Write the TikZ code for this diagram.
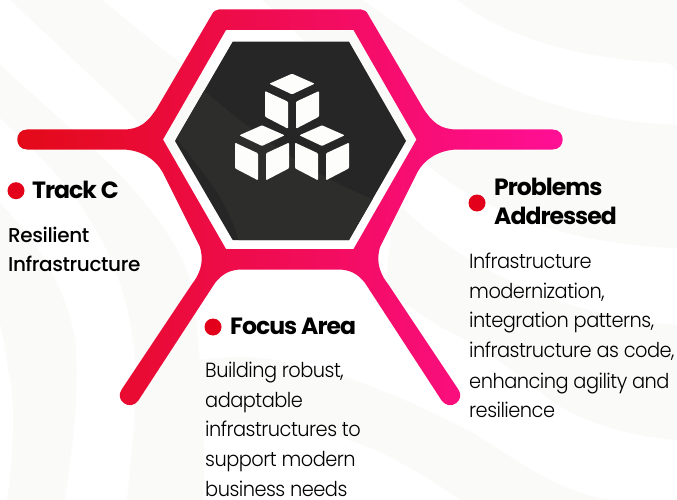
\documentclass[tikz,border=0pt]{standalone}
\usepackage{fontspec}
\setmainfont{Lato}
\newfontfamily\headf[LetterSpace=-4.2]{Poppins Bold}
\newfontfamily\medf[LetterSpace=-2.0]{Poppins Medium}
\newfontfamily\bodyf[LetterSpace=-2.5,FakeStretch=0.945]{Poppins Light}
\definecolor{ringL}{HTML}{E30A17}
\definecolor{ringM}{HTML}{EC0048}
\definecolor{ringR}{HTML}{FF0F96}
\definecolor{hexdark}{HTML}{262626}
\definecolor{hexlight}{HTML}{2D2D2B}
\definecolor{dotred}{HTML}{E2001A}
\definecolor{paleband}{HTML}{FAFAF8}
\definecolor{cubewhite}{HTML}{FDFDFB}
\tikzset{
  headtext/.style={inner sep=0,anchor=base west,text=black,font=\headf\fontsize{23.5}{29}\selectfont,align=left},
  subtext/.style={inner sep=0,anchor=north west,text=black,align=left,font=\medf\fontsize{20}{29}\selectfont},
  bodytext/.style={inner sep=0,anchor=north west,text=black,font=\bodyf\fontsize{20.5}{29.6}\selectfont,align=left},
  dotmark/.style={circle,fill=dotred,minimum size=17pt,inner sep=0},
  cubeface/.style={fill=cubewhite,rounded corners=1pt},
}
\newcommand{\onecube}[2]{%
  \begin{scope}[shift={(#1,#2)},x=1pt/3,y=-1pt/3]
    \fill[cubeface] (0,0)--(68,30)--(0,62)--(-68,30)--cycle;
    \fill[cubeface] (-81,52)--(-12,84)--(-12,165)--(-81,129)--cycle;
    \fill[cubeface] (12,84)--(81,52)--(81,129)--(12,165)--cycle;
  \end{scope}}
\begin{document}
\begin{tikzpicture}[x=1pt,y=-1pt]
\useasboundingbox (0,0) rectangle (677,500);
\fill[white] (0,0) rectangle (677,500);
% pale swooshes of the background
\fill[paleband]
  (457,0) .. controls (510,40) and (580,58) .. (666,63) .. controls (673,64) and (676,68) .. (677,72) -- (677,0) -- cycle
  (363,0) .. controls (430,50) and (530,120) .. (677,125) -- (677,248)
  .. controls (590,245) and (530,225) .. (480,200) .. controls (400,160) and (330,60) .. (262,0) -- cycle
  (395,200) .. controls (470,280) and (590,320) .. (677,325) -- (677,440)
  .. controls (620,435) and (580,420) .. (550,400) .. controls (520,375) and (480,345) .. (440,327) -- (385,290) -- cycle
  (198,360) .. controls (215,358) and (240,356) .. (257,358) .. controls (320,362) and (400,395) .. (473,433)
  .. controls (510,455) and (560,495) .. (613,500) -- (460,500)
  .. controls (430,478) and (400,462) .. (380,452) .. controls (320,425) and (260,420) .. (204,425) -- cycle
  (10,0) -- (77,63) -- (127,110) -- (175,160) -- (232,100) -- (163,50) -- (102,0) -- cycle
  (0,65) -- (70,128) .. controls (120,170) and (175,230) .. (190,280)
  .. controls (198,310) and (206,420) .. (203,500) -- (127,500)
  .. controls (133,440) and (140,380) .. (133,340) .. controls (125,280) and (100,215) .. (33,150) -- (0,118) -- cycle
  (0,203) .. controls (30,235) and (65,280) .. (75,340) .. controls (80,390) and (72,450) .. (65,500) -- (7,500)
  .. controls (15,450) and (15,390) .. (8,370) .. controls (6,350) and (3,335) .. (0,323) -- cycle;
% ring with arms
\shade[even odd rule,left color=ringL,middle color=ringM,right color=ringR]
  (219,9.5) -- (361,9.5)
  .. controls (364.5,9.5) and (366.5,11) .. (369,16)
  -- (423,108)
  .. controls (432,122) and (440,129.5) .. (457,129.5)
  -- (552.7,129.5)
  .. controls (566,129.5) and (566,149.5) .. (552.7,149.5)
  -- (457,149.5)
  .. controls (440,150) and (425,158) .. (417,173)
  -- (380,247)
  .. controls (377,258) and (377,270) .. (388,284)
  -- (458.3,389.4)
  .. controls (466,400) and (450,412) .. (441.7,400.6)
  -- (365,283)
  .. controls (358,274) and (350,269.5) .. (338,269.5)
  -- (242,269.5)
  .. controls (230,269.5) and (222,274) .. (215,283)
  -- (138.3,400.6)
  .. controls (130,412) and (114,400) .. (121.7,389.4)
  -- (192,284)
  .. controls (203,270) and (203,258) .. (200,247)
  -- (163,173)
  .. controls (155,158) and (140,150) .. (123,149.5)
  -- (27,149.5)
  .. controls (14,149.5) and (14,129.5) .. (27,129.5)
  -- (123,129.5)
  .. controls (140,129.5) and (148,122) .. (157,108)
  -- (211,16)
  .. controls (213.5,11) and (215.5,9.5) .. (219,9.5) -- cycle
  (226,30) -- (163,139.5) -- (226,249) -- (353.5,249) -- (416.5,139.5) -- (353.5,30) -- cycle;
% dark hexagon
\path[fill=hexdark] (232.7,41.7) -- (175,141) -- (232.7,240) -- (349,240) -- (406,141) -- (349,41.7) -- cycle;
\begin{scope}
  \clip (232.7,41.7) -- (175,141) -- (232.7,240) -- (349,240) -- (406,141) -- (349,41.7) -- cycle;
  \fill[hexlight] (203,90) .. controls (250,130) and (310,175) .. (375,200) -- (349,245)
    -- (240,245) .. controls (232,215) and (220,195) .. (205,175) -- (170,130) -- cycle;
\end{scope}
% cubes
\onecube{292}{73.7}
\onecube{262}{125.3}
\onecube{322}{125.3}
% markers and text
\node[dotmark] (dotTrack) at (16,190.7) {};
\node[headtext] (trackTitle) at (32,198) {Track C};
\node[subtext] (trackBody) at (8,226.5) {Resilient\\Infrastructure};
\node[dotmark] (dotFocus) at (213,327) {};
\node[headtext] (focusTitle) at (230,334) {Focus Area};
\node[bodytext] (focusBody) at (205,362) {Building robust,\\adaptable\\infrastructures to\\support modern\\business needs};
\node[dotmark] (dotProblems) at (477,203) {};
\node[headtext,anchor=north west] (problemsTitle) at (494,178) {Problems\\Addressed};
\node[bodytext] (problemsBody) at (469,253) {Infrastructure\\modernization,\\integration patterns,\\infrastructure as code,\\[1pt]enhancing agility and\\resilience};
\end{tikzpicture}
\end{document}
